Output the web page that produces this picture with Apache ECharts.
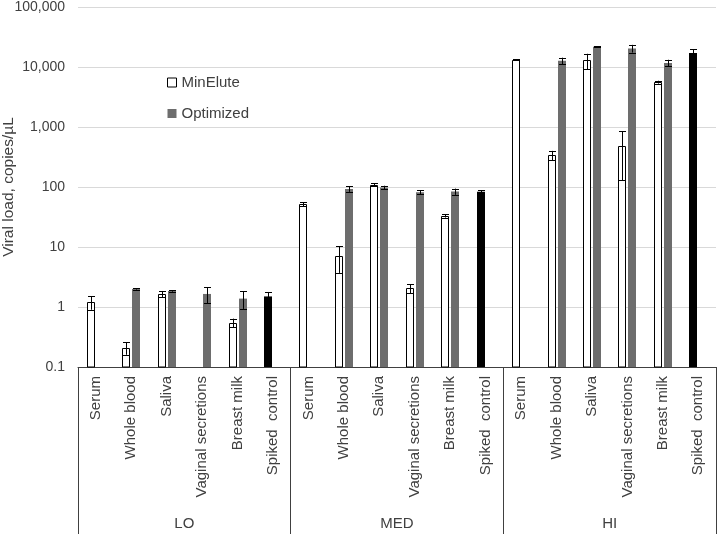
<!DOCTYPE html>
<html>
<head>
<meta charset="utf-8">
<script src="https://cdn.jsdelivr.net/npm/echarts@6/dist/echarts.min.js"></script>
<style>
html,body{margin:0;padding:0;background:#fff;}
#chart{width:717px;height:534px;}
</style>
</head>
<body>
<div id="chart"></div>
<script>
// ---- data ----
var groups = ['LO', 'MED', 'HI'];
var sampleTypes = ['Serum', 'Whole blood', 'Saliva', 'Vaginal secretions', 'Breast milk', 'Spiked  control'];
var yTicks = [0.1, 1, 10, 100, 1000, 10000, 100000];

// MinElute (null = not shown)
var minEluteLO  = [1.2, 0.21, 1.65, null, 0.55];
var minEluteMED = [52, 7.0, 110, 2.05, 33];
var minEluteHI  = [13200, 340, 12900, 490, 5600];
var minEluteErrLO  = [0.3, 0.05, 0.2, null, 0.09];
var minEluteErrMED = [4, 3.3, 6, 0.35, 2];
var minEluteErrHI  = [200, 60, 3700, 360, 300];

// Optimized
var optimizedLO  = [null, 2.0, 1.85, 1.65, 1.38];
var optimizedMED = [null, 93, 98, 82, 84];
var optimizedHI  = [null, 12700, 21800, 20400, 11700];
var optimizedErrLO  = [null, 0.05, 0.05, 0.5, 0.45];
var optimizedErrMED = [null, 10, 7, 6, 10];
var optimizedErrHI  = [null, 1600, 400, 3000, 1500];

// Spiked control (one per group)
var spiked    = [1.5, 83, 17100];
var spikedErr = [0.28, 5, 2500];

// ---- build ----
var categories = [];
groups.forEach(function (g) { sampleTypes.forEach(function (s) { categories.push(s); }); });

var minData = [], optData = [], spkData = [];
var minVals = [minEluteLO, minEluteMED, minEluteHI];
var minErrs = [minEluteErrLO, minEluteErrMED, minEluteErrHI];
var optVals = [optimizedLO, optimizedMED, optimizedHI];
var optErrs = [optimizedErrLO, optimizedErrMED, optimizedErrHI];
for (var g = 0; g < 3; g++) {
  for (var i = 0; i < 5; i++) {
    var idx = g * 6 + i;
    if (minVals[g][i] != null) minData.push([idx, minVals[g][i], minErrs[g][i]]);
    if (optVals[g][i] != null) optData.push([idx, optVals[g][i], optErrs[g][i]]);
  }
  spkData.push([g * 6 + 5, spiked[g], spikedErr[g]]);
}

var Y_MIN = 0.1, Y_MAX = 100000;
var BAR_W = 8, OFF = 5, CAP = 7;

function barItem(offset, fill, stroke) {
  return function (params, api) {
    var c = api.value(0), v = api.value(1), e = api.value(2);
    var top = api.coord([c, v]);
    var base = api.coord([c, Y_MIN]);
    var cx = top[0] + offset;
    var x0 = Math.round(cx - BAR_W / 2);
    var children = [];
    var rect = stroke ?
      { type: 'rect', shape: { x: x0 + 0.5, y: Math.round(top[1]) + 0.5, width: BAR_W - 1, height: base[1] - Math.round(top[1]) - 0.5 },
        style: { fill: fill, stroke: stroke, lineWidth: 1 } } :
      { type: 'rect', shape: { x: x0, y: top[1], width: BAR_W, height: base[1] - top[1] },
        style: { fill: fill } };
    children.push(rect);
    var hi = api.coord([c, v + e])[1];
    var lo = api.coord([c, Math.max(v - e, Y_MIN)])[1];
    var ex = Math.round(x0 + BAR_W / 2 - 0.5) + 0.5;
    var es = { stroke: '#000', lineWidth: 1, fill: null };
    children.push({ type: 'line', shape: { x1: ex, y1: hi, x2: ex, y2: lo }, style: es });
    children.push({ type: 'line', shape: { x1: ex - CAP / 2, y1: Math.round(hi) + 0.5, x2: ex + CAP / 2, y2: Math.round(hi) + 0.5 }, style: es });
    children.push({ type: 'line', shape: { x1: ex - CAP / 2, y1: Math.round(lo) + 0.5, x2: ex + CAP / 2, y2: Math.round(lo) + 0.5 }, style: es });
    return { type: 'group', children: children };
  };
}

var txt = '#404040';
var chart = echarts.init(document.getElementById('chart'), null, { renderer: 'canvas' });
chart.setOption({
  animation: false,
  textStyle: { fontFamily: 'Liberation Sans, Arial, sans-serif' },
  grid: { left: 78, right: 1, top: 7, bottom: 167, containLabel: false, outerBoundsMode: 'none' },
  legend: {
    orient: 'vertical', left: 167, top: 75, itemWidth: 9, itemHeight: 9, itemGap: 16, padding: 0,
    textStyle: { fontSize: 15, color: txt, fontFamily: 'Liberation Sans, Arial, sans-serif' },
    data: [
      { name: 'MinElute', icon: 'rect', itemStyle: { color: '#fff', borderColor: '#000', borderWidth: 1 } },
      { name: 'Optimized', icon: 'rect', itemStyle: { color: '#6d6d6d', borderWidth: 0 } }
    ]
  },
  xAxis: [
    {
      type: 'category', data: categories, position: 'bottom',
      axisLine: { show: true, lineStyle: { color: '#404040', width: 1 } },
      axisTick: { show: false },
      axisLabel: { rotate: 90, interval: 0, fontSize: 15, color: txt, margin: 9 },
      splitLine: { show: false }
    },
    {
      type: 'category', data: groups, position: 'bottom', offset: 0,
      axisLine: { show: false },
      axisTick: { show: true, length: 167, lineStyle: { color: '#404040', width: 1 } },
      axisLabel: { interval: 0, fontSize: 15, color: txt, margin: 149 },
      splitLine: { show: false }
    }
  ],
  yAxis: {
    type: 'log', logBase: 10, min: Y_MIN, max: Y_MAX, splitNumber: 6,
    name: 'Viral load, copies/µL', nameLocation: 'middle', nameGap: 61, nameMoveOverlap: false,
    nameTextStyle: { fontSize: 15.5, color: txt },
    axisLine: { show: false }, axisTick: { show: false },
    axisLabel: {
      fontSize: 14, color: txt, margin: 13,
      formatter: function (v) {
        if (v < 1) return String(v);
        return Math.round(v).toLocaleString('en-US');
      }
    },
    splitLine: { show: true, lineStyle: { color: '#d9d9d9', width: 1 } }
  },
  series: [
    { name: 'MinElute', type: 'custom', xAxisIndex: 0, renderItem: barItem(-OFF, '#fff', '#000'),
      itemStyle: { color: '#fff', borderColor: '#000' }, data: minData, encode: { x: 0, y: 1 } },
    { name: 'Optimized', type: 'custom', xAxisIndex: 0, renderItem: barItem(OFF, '#6d6d6d', null),
      itemStyle: { color: '#6d6d6d' }, data: optData, encode: { x: 0, y: 1 } },
    { name: 'Spiked control', type: 'custom', xAxisIndex: 0, renderItem: barItem(-OFF, '#000', null),
      itemStyle: { color: '#000' }, data: spkData, encode: { x: 0, y: 1 } }
  ]
});
</script>
</body>
</html>
